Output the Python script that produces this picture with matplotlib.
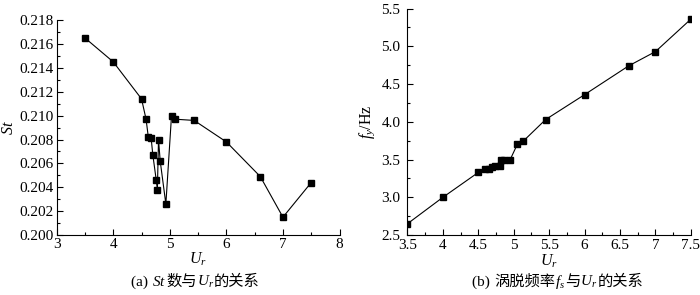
import matplotlib
matplotlib.use("Agg")
import matplotlib.pyplot as plt
from matplotlib.ticker import MultipleLocator, FormatStrFormatter, FuncFormatter

plt.rcParams['font.family'] = ['Liberation Serif', 'Noto Sans CJK SC']
plt.rcParams['mathtext.fontset'] = 'custom'
plt.rcParams['mathtext.rm'] = 'Liberation Serif'
plt.rcParams['mathtext.it'] = 'Liberation Serif:italic'

# (a) Strouhal number vs reduced velocity
ur_a = [3.5, 4.0, 4.5, 4.58, 4.62, 4.67, 4.70, 4.76, 4.78, 4.80, 4.83, 4.93,
        5.03, 5.10, 5.43, 6.0, 6.6, 7.0, 7.5]
st = [0.2165, 0.2145, 0.2114, 0.2097, 0.2082, 0.2081, 0.2067, 0.2046, 0.2038,
      0.2080, 0.2062, 0.2026, 0.2100, 0.2097, 0.2096, 0.2078, 0.2049, 0.2015, 0.2044]

# (b) shedding frequency vs reduced velocity
ur_b = [3.5, 4.0, 4.5, 4.60, 4.65, 4.69, 4.74, 4.80, 4.82, 4.87, 4.95,
        5.05, 5.13, 5.45, 6.0, 6.62, 7.0, 7.5]
fs = [2.65, 3.00, 3.33, 3.37, 3.38, 3.40, 3.42, 3.42, 3.50, 3.50, 3.50,
      3.70, 3.74, 4.03, 4.36, 4.74, 4.93, 5.36]

fig = plt.figure(figsize=(7, 2.95), dpi=100)
ax1 = fig.add_axes([0.081, 0.203, 0.404, 0.729])
ax2 = fig.add_axes([0.582, 0.203, 0.405, 0.768])

line_kw = dict(color='black', lw=0.8, marker='s', markersize=4.5,
               markerfacecolor='black', markeredgecolor='black')

ax1.plot(ur_a, st, **line_kw)
ax1.set_xlim(3, 8)
ax1.set_ylim(0.200, 0.218)
ax1.xaxis.set_major_locator(MultipleLocator(1))
ax1.xaxis.set_minor_locator(MultipleLocator(0.5))
ax1.yaxis.set_major_locator(MultipleLocator(0.002))
ax1.yaxis.set_minor_locator(MultipleLocator(0.001))
ax1.yaxis.set_major_formatter(FormatStrFormatter('%.3f'))
ax1.set_xlabel(r'$U_r$', fontsize=11.5, labelpad=0)
ax1.set_ylabel(r'$St$', fontsize=11.5, labelpad=2)

ax2.plot(ur_b, fs, **line_kw)
ax2.set_xlim(3.5, 7.5)
ax2.set_ylim(2.5, 5.5)
ax2.xaxis.set_major_locator(MultipleLocator(0.5))
ax2.xaxis.set_minor_locator(MultipleLocator(0.25))
ax2.xaxis.set_major_formatter(FuncFormatter(lambda v, p: '%g' % v))
ax2.yaxis.set_major_locator(MultipleLocator(0.5))
ax2.yaxis.set_minor_locator(MultipleLocator(0.25))
ax2.yaxis.set_major_formatter(FormatStrFormatter('%.1f'))
ax2.set_xlabel(r'$U_r$', fontsize=11.5, labelpad=0)
ax2.set_ylabel(r'$f_y$/Hz', fontsize=11.5, labelpad=3)

for ax in (ax1, ax2):
    ax.spines['top'].set_visible(False)
    ax.spines['right'].set_visible(False)
    for s in ('left', 'bottom'):
        ax.spines[s].set_linewidth(0.8)
    ax.tick_params(which='both', direction='in', width=0.8, labelsize=11, pad=2)
    ax.tick_params(which='major', length=4)
    ax.tick_params(which='minor', length=2)
ax2.tick_params(axis='x', pad=3)
ax2.tick_params(axis='y', pad=5)


def caption(parts, x, y):
    # draw caption pieces one after another, centred as a whole
    texts = [fig.text(0, 0, p, fontsize=11, ha='left', va='baseline') for p in parts]
    fig.canvas.draw()
    r = fig.canvas.get_renderer()
    widths = [tt.get_window_extent(r).width for tt in texts]
    x0 = x * fig.bbox.width - sum(widths) / 2
    for tt, w in zip(texts, widths):
        tt.set_transform(fig.dpi_scale_trans)
        tt.set_position((x0 / fig.dpi, y * fig.bbox.height / fig.dpi))
        x0 += w


caption(['(a) ', r'$St$', '数与', r'$U_r$', '的关系'], 0.279, 0.03)
caption(['(b) ', '涡脱频率', r'$f_s$', '与', r'$U_r$', '的关系'], 0.797, 0.03)

fig.savefig('out.png', dpi=100)
